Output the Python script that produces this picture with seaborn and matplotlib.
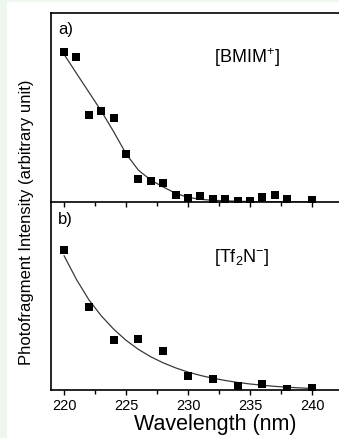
import matplotlib
matplotlib.use("Agg")
import matplotlib.pyplot as plt
from matplotlib.patches import Rectangle
from matplotlib.ticker import MultipleLocator, FixedLocator
import seaborn as sns
import pandas as pd

# Measured photofragment yields (arbitrary units)
wl_bmim = [220, 221, 222, 223, 224, 225, 226, 227, 228, 229,
           230, 231, 232, 233, 234, 235, 236, 237, 238, 240]
int_bmim = [1.00, 0.97, 0.58, 0.605, 0.558, 0.32, 0.151, 0.138, 0.125, 0.049,
            0.025, 0.038, 0.020, 0.018, 0.006, 0.006, 0.035, 0.047, 0.018, 0.013]

wl_tf2n = [220, 222, 224, 226, 228, 230, 232, 234, 236, 238, 240]
int_tf2n = [1.00, 0.595, 0.355, 0.366, 0.279, 0.102, 0.076, 0.026, 0.043, 0.009, 0.016]

# Fitted curves
fit_wl = [220, 221, 222, 223, 224, 225, 226, 227, 228, 229, 230,
          231, 232, 233, 234, 235, 236, 237, 238, 239, 240]
fit_bmim = [0.985, 0.858, 0.733, 0.607, 0.469, 0.322, 0.212, 0.146, 0.100, 0.058, 0.031,
            0.018, 0.011, 0.008, 0.005, 0.003, 0.002, 0.001, 0.001, 0.0, 0.0]
fit_tf2n = [0.96, 0.79, 0.645, 0.53, 0.435, 0.355, 0.29, 0.237, 0.194, 0.158, 0.128,
            0.104, 0.084, 0.068, 0.054, 0.043, 0.034, 0.026, 0.020, 0.015, 0.011]

xticks = [220, 225, 230, 235, 240]
panel_labels = ["a)", "b)"]
species = [r"[BMIM$^{+}$]", r"[Tf$_{2}$N$^{-}$]"]

sns.set_style("ticks")
plt.rcParams.update({
    "font.family": ["Liberation Sans", "DejaVu Sans"],
    "mathtext.fontset": "custom",
    "mathtext.rm": "Liberation Sans",
    "mathtext.default": "regular",
    "text.color": "black",
    "axes.labelcolor": "black",
    "xtick.color": "black",
    "xtick.labelcolor": "black",
    "xtick.bottom": True,
    "xtick.top": False,
    "xtick.direction": "out",
    "xtick.major.size": 3.8,
    "xtick.minor.size": 3.0,
    "xtick.major.width": 1.0,
    "xtick.minor.width": 1.0,
    "xtick.minor.visible": True,
    "ytick.left": False,
    "ytick.right": False,
})

W, H = 339, 439
fig = plt.figure(figsize=(W / 100, H / 100), dpi=100)
fig.patch.set_facecolor("#edf7ed")
fig.add_artist(Rectangle((7 / W, 0), 1, 1 - 3 / H, transform=fig.transFigure,
                         facecolor="white", edgecolor="none", zorder=-10))

left = 51 / W
width = (379 - 51) / W
ax_a = fig.add_axes([left, 1 - 203 / H, width, 189 / H])
ax_b = fig.add_axes([left, 1 - 391 / H, width, 188 / H])

xlim = (218.95, 245.4)
data = [
    (ax_a, wl_bmim, int_bmim, fit_bmim, (0, 1.26)),
    (ax_b, wl_tf2n, int_tf2n, fit_tf2n, (0, 1.343)),
]

for i, (ax, wl, val, fit, ylim) in enumerate(data):
    df = pd.DataFrame({"wl": wl, "val": val})
    dfit = pd.DataFrame({"wl": fit_wl, "val": fit})
    sns.lineplot(data=dfit, x="wl", y="val", ax=ax, color="#3a3a3a",
                 linewidth=0.9, zorder=2)
    sns.scatterplot(data=df, x="wl", y="val", ax=ax, marker="s", s=36,
                    color="black", edgecolor="black", linewidth=0, zorder=3)
    ax.set_xlim(*xlim)
    ax.set_ylim(*ylim)
    ax.set_facecolor("white")
    ax.set_xlabel("")
    ax.set_ylabel("")
    ax.set_yticks([])
    ax.xaxis.set_major_locator(FixedLocator(xticks))
    ax.xaxis.set_minor_locator(MultipleLocator(2.5))
    ax.xaxis.set_ticks_position("bottom")
    for s in ax.spines.values():
        s.set_color("black")
        s.set_linewidth(1.2)
    ax.spines["right"].set_visible(False)
    ax.text(0.021, 0.957 if i == 0 else 0.952, panel_labels[i], transform=ax.transAxes,
            ha="left", va="top", fontsize=12)

ax_b.spines["top"].set_visible(False)
ax_a.tick_params(axis="x", which="both", labelbottom=False)
ax_b.set_xticklabels([str(t) for t in xticks], fontsize=10.5)
ax_b.tick_params(axis="x", which="major", pad=2)
# panel a is drawn on top so its ticks hang into panel b
ax_a.set_zorder(2)
ax_b.set_zorder(1)

fig.text(246.5 / W, 1 - 58 / H, species[0], ha="center", va="center", fontsize=13)
fig.text(242 / W, 1 - 258 / H, species[1], ha="center", va="center", fontsize=13)

ax_b.set_xlabel("Wavelength (nm)", fontsize=15.5, labelpad=1)
fig.text(27 / W, 1 - 222.5 / H, "Photofragment Intensity (arbitrary unit)",
         rotation=90, ha="center", va="center", fontsize=12)

fig.savefig("out.png", dpi=100, facecolor=fig.get_facecolor())
